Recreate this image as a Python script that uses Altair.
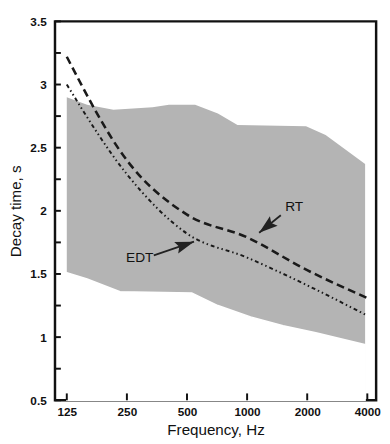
import altair as alt
import pandas as pd

# Octave-band centre frequencies and decay times
freqs = [125, 250, 500, 1000, 2000, 4000]
rt_values = [3.22, 2.40, 1.97, 1.79, 1.53, 1.31]
edt_values = [3.00, 2.29, 1.82, 1.63, 1.41, 1.17]

# Shaded range (upper and lower boundaries)
band_upper_freqs = [125, 158, 214, 336, 406, 549, 714, 895, 1973, 2473, 3900]
band_upper_values = [2.90, 2.84, 2.80, 2.82, 2.84, 2.84, 2.77, 2.68, 2.67, 2.60, 2.37]
band_lower_freqs = [125, 158, 231, 528, 714, 1041, 1515, 2208, 3900]
band_lower_values = [1.51, 1.46, 1.36, 1.35, 1.25, 1.16, 1.09, 1.035, 0.94]

# Axis ticks
x_tick_values = [125, 250, 500, 1000, 2000, 4000]
y_label_values = [0.5, 1, 1.5, 2, 2.5, 3, 3.5]
y_tick_values = [0.5, 0.75, 1, 1.25, 1.5, 1.75, 2, 2.25, 2.5, 2.75, 3, 3.25, 3.5]

# Annotations
label_texts = ["RT", "EDT"]
label_freqs = [1720, 290]
label_values = [2.03, 1.624]
arrow_tail_freqs = [1475, 341]
arrow_tail_values = [1.965, 1.647]
arrow_tip_freqs = [1149, 542]
arrow_tip_values = [1.826, 1.756]
arrow_angles = [231, 71]

FONT = "Liberation Sans"

xscale = alt.Scale(type="log", base=2, domain=[109.1, 4428], nice=False)
yscale = alt.Scale(domain=[0.5, 3.5], nice=False, zero=False)

upper_df = pd.DataFrame({"f": band_upper_freqs, "v": band_upper_values})
lower_df = pd.DataFrame({"f": band_lower_freqs, "v": band_lower_values})
curves_df = pd.DataFrame({"f": freqs, "rt": rt_values, "edt": edt_values})
labels_df = pd.DataFrame({"t": label_texts, "f": label_freqs, "v": label_values})
arrows_df = pd.DataFrame({
    "f": arrow_tail_freqs, "v": arrow_tail_values,
    "f2": arrow_tip_freqs, "v2": arrow_tip_values, "a": arrow_angles,
})
yt_df = pd.DataFrame({"v": y_tick_values})
xt_df = pd.DataFrame({"f": x_tick_values})

x_axis = alt.Axis(
    values=x_tick_values, format="d", title="Frequency, Hz",
    ticks=False, domain=False, grid=False, labelFlush=False,
    labelFont=FONT, labelFontSize=12, labelFontWeight="bold", labelColor="#111",
    labelPadding=7, titleFont=FONT, titleFontSize=15.5, titleFontWeight="normal",
    titleColor="#111", titlePadding=5,
)
y_axis = alt.Axis(
    values=y_label_values, format="~g", title="Decay time, s",
    ticks=False, domain=False, grid=False, labelFlush=False,
    labelFont=FONT, labelFontSize=12, labelFontWeight="bold", labelColor="#111",
    labelPadding=9, titleFont=FONT, titleFontSize=15.5, titleFontWeight="normal",
    titleColor="#111", titlePadding=7,
)

band_top = alt.Chart(upper_df).mark_area(color="#b4b4b4", opacity=1).encode(
    x=alt.X("f:Q", scale=xscale, axis=x_axis),
    y=alt.Y("v:Q", scale=yscale, axis=y_axis),
    y2=alt.datum(0.5),
)
band_cut = alt.Chart(lower_df).mark_area(
    color="white", opacity=1, stroke="white", strokeWidth=1.5
).encode(
    x=alt.X("f:Q", scale=xscale),
    y=alt.Y("v:Q", scale=yscale),
    y2=alt.datum(0.5),
)

rt_line = alt.Chart(curves_df).mark_line(
    color="#1a1a1a", strokeWidth=2.6, strokeDash=[8, 4.5], interpolate="monotone"
).encode(x=alt.X("f:Q", scale=xscale), y=alt.Y("rt:Q", scale=yscale))

edt_line = alt.Chart(curves_df).mark_line(
    color="#1a1a1a", strokeWidth=2.0, strokeDash=[4, 3, 1.5, 3, 1.5, 3], interpolate="monotone"
).encode(x=alt.X("f:Q", scale=xscale), y=alt.Y("edt:Q", scale=yscale))

arrow_lines = alt.Chart(arrows_df).mark_rule(color="#222", strokeWidth=1.8).encode(
    x=alt.X("f:Q", scale=xscale), y=alt.Y("v:Q", scale=yscale),
    x2="f2:Q", y2="v2:Q",
)
arrow_heads = alt.Chart(arrows_df).mark_point(
    shape="M0,0L0.75,2.3L0,1.9L-0.75,2.3Z", filled=True, color="#222",
    size=280, opacity=1, strokeWidth=0,
).encode(
    x=alt.X("f2:Q", scale=xscale), y=alt.Y("v2:Q", scale=yscale),
    angle=alt.Angle("a:Q", scale=None),
)

texts = alt.Chart(labels_df).mark_text(
    font=FONT, fontSize=14, color="#111"
).encode(x=alt.X("f:Q", scale=xscale), y=alt.Y("v:Q", scale=yscale), text="t:N")

y_ticks = alt.Chart(yt_df).mark_rule(color="#111", strokeWidth=2).encode(
    y=alt.Y("v:Q", scale=yscale), x=alt.value(0), x2=alt.value(6)
)
x_ticks = alt.Chart(xt_df).mark_rule(color="#111", strokeWidth=2).encode(
    x=alt.X("f:Q", scale=xscale), y=alt.value(387), y2=alt.value(380)
)

chart = alt.layer(
    band_top, band_cut, rt_line, edt_line, arrow_lines, arrow_heads, texts, y_ticks, x_ticks
).properties(
    width=328, height=387,
    autosize=alt.AutoSizeParams(type="none"),
    padding={"left": 48, "top": 9, "right": 6, "bottom": 40},
    background="white",
).configure_view(stroke="#111", strokeWidth=2.5)

chart.save("out.html", embed_options={"renderer": "svg", "actions": False})
